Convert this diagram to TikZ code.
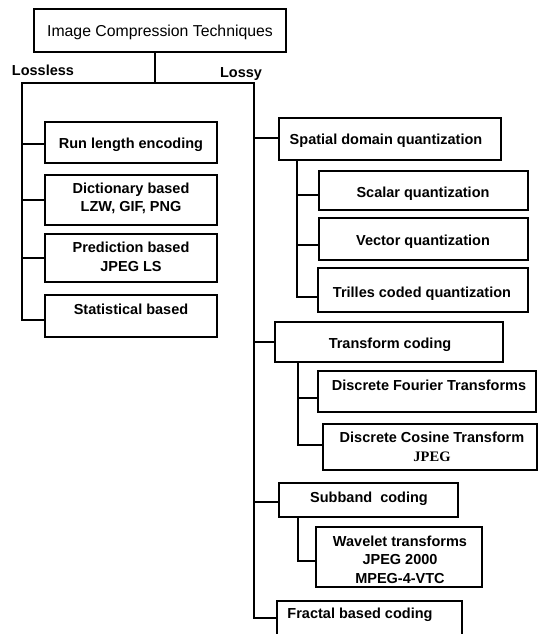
\documentclass[tikz,border=0pt]{standalone}
\usepackage{fontspec}
\setmainfont{Liberation Sans}
\newfontfamily\serifb{Liberation Serif}
\begin{document}
\begin{tikzpicture}[x=1pt,y=-1pt,
  box/.style={draw=black, line width=1.8pt, inner sep=0pt, fill=white},
  txt/.style={inner sep=0pt, font=\fontsize{14.5}{18.5}\selectfont\bfseries, align=center, text=black},
  one/.style={text height=10.4pt, text depth=0pt},
  ttl/.style={inner sep=0pt, font=\fontsize{15.8}{19}\selectfont, text=black, text height=11.3pt, text depth=0pt},
  wire/.style={line width=1.8pt, line cap=rect}]
\useasboundingbox (0,0) rectangle (538,634);
\clip (0,0) rectangle (538,634);
% root
\node[box, minimum width=252pt, minimum height=43pt] (root) at (160,30.5) {};
\node[ttl] (root-t) at (160,31) {Image Compression Techniques};
\node[txt, one] (lossless) at (43,70) {Lossless};
\node[txt, one] (lossy) at (241,72) {Lossy};
% lossless boxes
\node[box, minimum width=172pt, minimum height=41pt] (rle) at (131,142.5) {};
\node[txt, one] (rle-t) at (131,143.5) {Run length encoding};
\node[box, minimum width=172pt, minimum height=50pt] (dict) at (131,200) {};
\node[txt] (dict-t) at (131,198.5) {Dictionary based\\LZW, GIF, PNG};
\node[box, minimum width=172pt, minimum height=48pt] (pred) at (131,258) {};
\node[txt] (pred-t) at (131,257) {Prediction based\\JPEG LS};
\node[box, minimum width=172pt, minimum height=42pt] (stat) at (131,316) {};
\node[txt, one] (stat-t) at (131,309) {Statistical based};
% lossy boxes
\node[box, minimum width=222pt, minimum height=42pt] (spatial) at (390,139) {};
\node[txt, one] (spatial-t) at (386,139) {Spatial domain quantization};
\node[box, minimum width=209pt, minimum height=39pt] (scalar) at (423.5,190.5) {};
\node[txt, one] (scalar-t) at (423,192) {Scalar quantization};
\node[box, minimum width=209pt, minimum height=42pt] (vector) at (423.5,239) {};
\node[txt, one] (vector-t) at (423,240) {Vector quantization};
\node[box, minimum width=210pt, minimum height=44pt] (trilles) at (423,290) {};
\node[txt, one] (trilles-t) at (422,292) {Trilles coded quantization};
\node[box, minimum width=228pt, minimum height=40pt] (transform) at (389,342) {};
\node[txt, one] (transform-t) at (390,343) {Transform coding};
\node[box, minimum width=218pt, minimum height=41pt] (dft) at (427,391.5) {};
\node[txt, one] (dft-t) at (429,385) {Discrete Fourier Transforms};
\node[box, minimum width=214pt, minimum height=46pt] (dct) at (430,447) {};
\node[txt] (dct-t) at (432,447) {Discrete Cosine Transform\\{\serifb\bfseries JPEG}};
\node[box, minimum width=179pt, minimum height=34pt] (subband) at (368.5,500) {};
\node[txt, one] (subband-t) at (369,497) {Subband\ \ coding};
\node[box, minimum width=166pt, minimum height=60pt] (wavelet) at (399,557) {};
\node[txt] (wavelet-t) at (400,559.5) {Wavelet transforms\\JPEG 2000\\MPEG-4-VTC};
\node[box, minimum width=185pt, minimum height=49pt] (fractal) at (369.5,625.5) {};
\node[txt, one] (fractal-t) at (360,613) {Fractal based coding};
% trunk coordinates
\coordinate (j) at (155,83);
\coordinate (lossL) at (22,83);
\coordinate (lossR) at (254,83);
\coordinate (L1) at (22,144);
\coordinate (L2) at (22,200);
\coordinate (L3) at (22,258);
\coordinate (L4) at (22,320);
\coordinate (R1) at (254,138);
\coordinate (R2) at (254,342);
\coordinate (R3) at (254,502);
\coordinate (R4) at (254,618);
\coordinate (S1) at (297,195);
\coordinate (S2) at (297,245);
\coordinate (S3) at (297,297);
\coordinate (T1) at (298,398);
\coordinate (T2) at (298,445);
\coordinate (B1) at (298,561);
% connectors
\draw[wire] (root.south -| j) -- (j);
\draw[wire] (L4) -- (lossL) -- (lossR) -- (R4);
\foreach \c/\b in {L1/rle, L2/dict, L3/pred, L4/stat, R1/spatial, R2/transform, R3/subband, R4/fractal, S1/scalar, S2/vector, S3/trilles, T1/dft, T2/dct, B1/wavelet}
  \draw[wire] (\c) -- (\c -| \b.west);
\draw[wire] (spatial.south -| S3) -- (S3);
\draw[wire] (transform.south -| T2) -- (T2);
\draw[wire] (subband.south -| B1) -- (B1);
\end{tikzpicture}
\end{document}
